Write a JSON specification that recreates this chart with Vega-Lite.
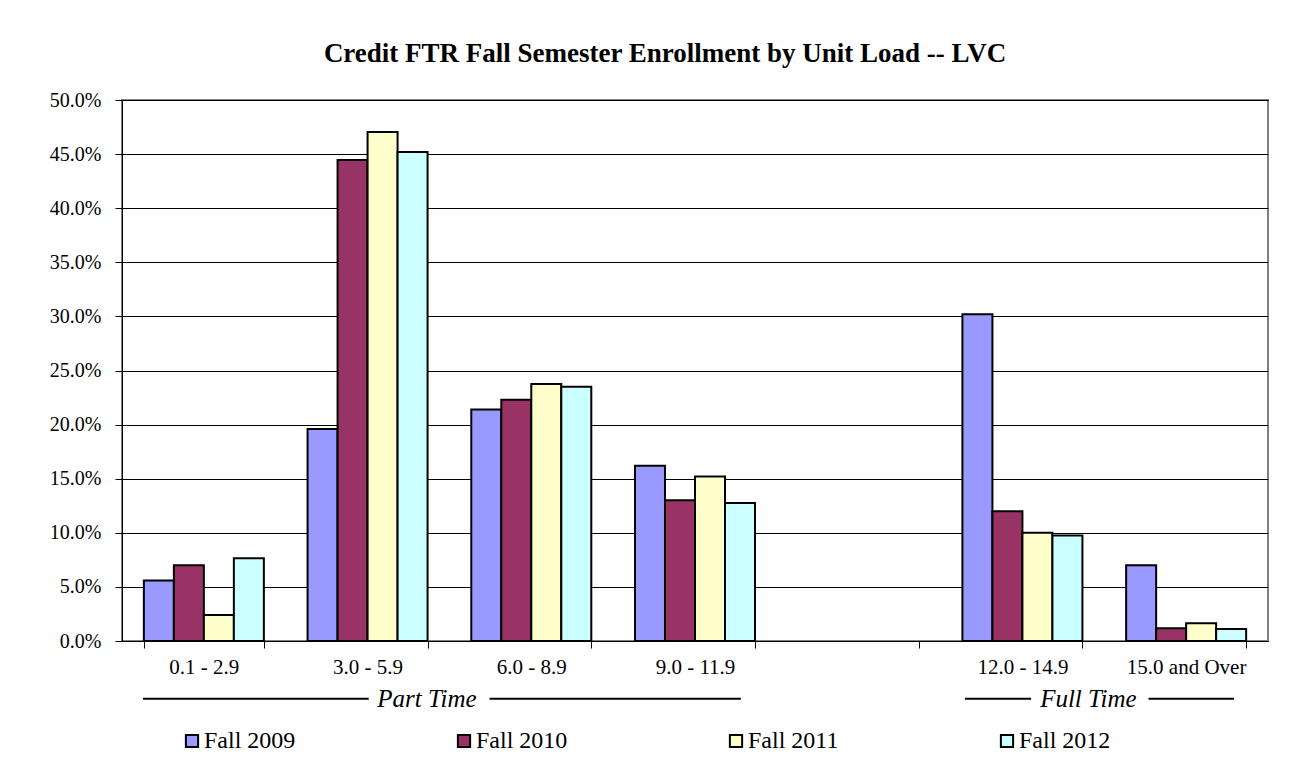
{
  "$schema": "https://vega.github.io/schema/vega-lite/v6.json",
  "width": 1146,
  "height": 541,
  "autosize": {"type": "none"},
  "padding": {"left": 122, "top": 100, "right": 29, "bottom": 121},
  "background": "white",
  "config": {
    "font": "Liberation Serif",
    "view": {"stroke": "#808080", "strokeWidth": 2}
  },
  "title": {
    "text": "Credit FTR Fall Semester Enrollment by Unit Load -- LVC",
    "font": "Liberation Serif",
    "fontSize": 27,
    "fontWeight": "bold",
    "color": "black",
    "anchor": "middle",
    "offset": 22,
    "dx": -30
  },
  "layer": [
    {
      "data": {
        "values": [
          {"load": "0.1 - 2.9", "term": "Fall 2009", "pct": 0.0558},
          {"load": "0.1 - 2.9", "term": "Fall 2010", "pct": 0.070},
          {"load": "0.1 - 2.9", "term": "Fall 2011", "pct": 0.024},
          {"load": "0.1 - 2.9", "term": "Fall 2012", "pct": 0.0765},
          {"load": "3.0 - 5.9", "term": "Fall 2009", "pct": 0.196},
          {"load": "3.0 - 5.9", "term": "Fall 2010", "pct": 0.4445},
          {"load": "3.0 - 5.9", "term": "Fall 2011", "pct": 0.4704},
          {"load": "3.0 - 5.9", "term": "Fall 2012", "pct": 0.452},
          {"load": "6.0 - 8.9", "term": "Fall 2009", "pct": 0.214},
          {"load": "6.0 - 8.9", "term": "Fall 2010", "pct": 0.223},
          {"load": "6.0 - 8.9", "term": "Fall 2011", "pct": 0.2375},
          {"load": "6.0 - 8.9", "term": "Fall 2012", "pct": 0.235},
          {"load": "9.0 - 11.9", "term": "Fall 2009", "pct": 0.162},
          {"load": "9.0 - 11.9", "term": "Fall 2010", "pct": 0.130},
          {"load": "9.0 - 11.9", "term": "Fall 2011", "pct": 0.152},
          {"load": "9.0 - 11.9", "term": "Fall 2012", "pct": 0.1275},
          {"load": "12.0 - 14.9", "term": "Fall 2009", "pct": 0.302},
          {"load": "12.0 - 14.9", "term": "Fall 2010", "pct": 0.120},
          {"load": "12.0 - 14.9", "term": "Fall 2011", "pct": 0.100},
          {"load": "12.0 - 14.9", "term": "Fall 2012", "pct": 0.0976},
          {"load": "15.0 and Over", "term": "Fall 2009", "pct": 0.070},
          {"load": "15.0 and Over", "term": "Fall 2010", "pct": 0.0117},
          {"load": "15.0 and Over", "term": "Fall 2011", "pct": 0.0163},
          {"load": "15.0 and Over", "term": "Fall 2012", "pct": 0.011}
        ]
      },
      "mark": {"type": "bar", "stroke": "black", "strokeWidth": 2},
      "encoding": {
        "x": {
          "field": "load",
          "type": "nominal",
          "sort": null,
          "scale": {
            "domain": ["0.1 - 2.9", "3.0 - 5.9", "6.0 - 8.9", "9.0 - 11.9", " ", "12.0 - 14.9", "15.0 and Over"],
            "paddingInner": 0.267,
            "paddingOuter": 0.1335
          },
          "axis": {
            "title": null,
            "labelAngle": 0,
            "labelFont": "Liberation Serif",
            "labelFontSize": 21,
            "labelColor": "black",
            "labelPadding": 8,
            "tickBand": "extent",
            "tickSize": 7,
            "tickColor": "black",
            "tickWidth": 1,
            "domainColor": "black",
            "domainWidth": 1,
            "grid": false
          }
        },
        "xOffset": {
          "field": "term",
          "type": "nominal",
          "scale": {"paddingInner": 0, "paddingOuter": 0}
        },
        "y": {
          "field": "pct",
          "type": "quantitative",
          "scale": {"domain": [0, 0.5], "nice": false},
          "axis": {
            "title": null,
            "format": ".1%",
            "values": [0, 0.05, 0.1, 0.15, 0.2, 0.25, 0.3, 0.35, 0.4, 0.45, 0.5],
            "labelFont": "Liberation Serif",
            "labelFontSize": 20,
            "labelColor": "black",
            "labelPadding": 14,
            "tickSize": 7,
            "tickColor": "black",
            "domainColor": "black",
            "domainWidth": 1,
            "gridColor": "black",
            "gridWidth": 1
          }
        },
        "color": {
          "field": "term",
          "type": "nominal",
          "scale": {
            "domain": ["Fall 2009", "Fall 2010", "Fall 2011", "Fall 2012"],
            "range": ["#9999FF", "#993366", "#FFFFCC", "#CCFFFF"]
          },
          "legend": {
            "title": null,
            "orient": "none",
            "legendX": 58,
            "legendY": 629,
            "direction": "horizontal",
            "columns": 4,
            "columnPadding": 156,
            "padding": 0,
            "symbolType": "square",
            "symbolSize": 150,
            "symbolStrokeColor": "black",
            "symbolStrokeWidth": 2,
            "symbolOpacity": 1,
            "labelFont": "Liberation Serif",
            "labelFontSize": 24,
            "labelColor": "black",
            "labelOffset": 0
          }
        }
      }
    },
    {
      "data": {
        "values": [
          {"x1": 0.128, "x2": 1.507, "pct": -0.0533},
          {"x1": 2.245, "x2": 3.780, "pct": -0.0533},
          {"x1": 5.149, "x2": 5.553, "pct": -0.0533},
          {"x1": 6.270, "x2": 6.792, "pct": -0.0533}
        ]
      },
      "mark": {"type": "rule", "stroke": "black", "strokeWidth": 2},
      "encoding": {
        "x": {"field": "x1", "type": "quantitative", "scale": {"domain": [0, 7], "nice": false, "zero": false}, "axis": null},
        "x2": {"field": "x2"},
        "y": {"field": "pct", "type": "quantitative", "scale": {"domain": [0, 0.5], "nice": false}}
      }
    },
    {
      "data": {
        "values": [
          {"label": "Part Time", "xc": 1.863, "pct": -0.0533},
          {"label": "Full Time", "xc": 5.903, "pct": -0.0533}
        ]
      },
      "mark": {"type": "text", "font": "Liberation Serif", "fontStyle": "italic", "fontSize": 25, "color": "black", "baseline": "middle", "align": "center"},
      "encoding": {
        "x": {"field": "xc", "type": "quantitative", "scale": {"domain": [0, 7], "nice": false, "zero": false}, "axis": null},
        "y": {"field": "pct", "type": "quantitative", "scale": {"domain": [0, 0.5], "nice": false}},
        "text": {"field": "label"}
      }
    }
  ],
  "resolve": {"scale": {"x": "independent"}}
}
